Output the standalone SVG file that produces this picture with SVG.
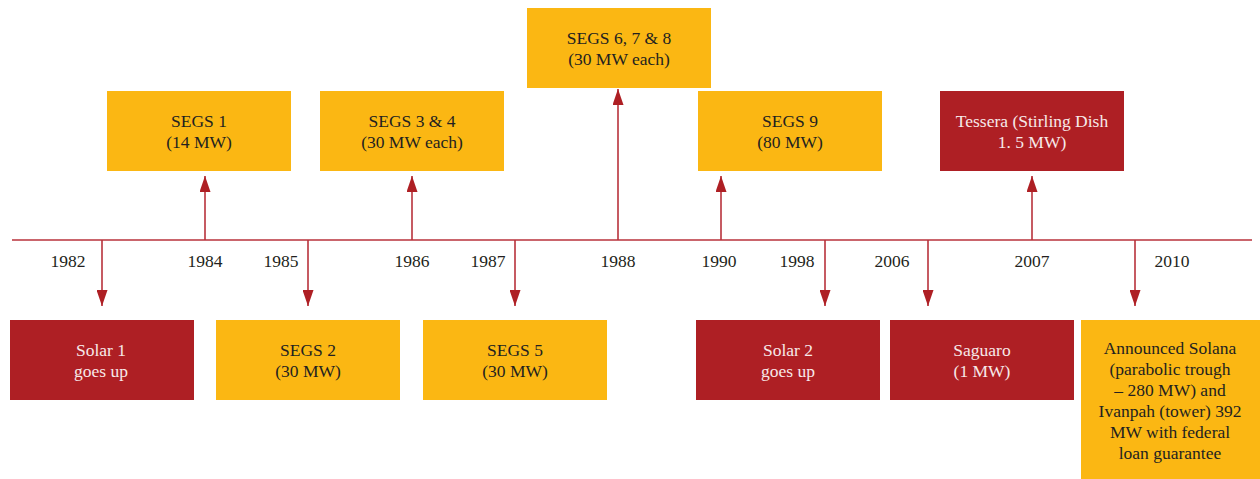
<svg xmlns="http://www.w3.org/2000/svg" width="1260" height="479" viewBox="0 0 1260 479">
<style>
text{font-family:"Liberation Serif","Times New Roman",serif;font-size:17.5px;text-anchor:middle}
.red rect{fill:#AE1F24}
.yel rect{fill:#FBB713}
.red text{fill:#F7E9E9}
.yel text{fill:#231F20}
.yr{fill:#231F20}
.ln{stroke:#B8323B;stroke-width:1.6;fill:none}
</style>
<defs>
<marker id="ah" viewBox="0 0 16 11" refX="16" refY="5.5" markerWidth="16" markerHeight="11" markerUnits="userSpaceOnUse" orient="auto">
<path d="M0,0 L16,5.5 L0,11 Z" fill="#AE1F24"/>
</marker>
</defs>
<g id="connectors">
<line class="ln" x1="12" y1="240" x2="1252" y2="240"/>
<line class="ln" x1="102" y1="240" x2="102" y2="306" marker-end="url(#ah)"/>
<line class="ln" x1="308" y1="240" x2="308" y2="306" marker-end="url(#ah)"/>
<line class="ln" x1="515" y1="240" x2="515" y2="306" marker-end="url(#ah)"/>
<line class="ln" x1="825" y1="240" x2="825" y2="306" marker-end="url(#ah)"/>
<line class="ln" x1="928" y1="240" x2="928" y2="306" marker-end="url(#ah)"/>
<line class="ln" x1="1135" y1="240" x2="1135" y2="306" marker-end="url(#ah)"/>
<line class="ln" x1="205" y1="240" x2="205" y2="176" marker-end="url(#ah)"/>
<line class="ln" x1="412" y1="240" x2="412" y2="176" marker-end="url(#ah)"/>
<line class="ln" x1="618" y1="240" x2="618" y2="89" marker-end="url(#ah)"/>
<line class="ln" x1="721" y1="240" x2="721" y2="176" marker-end="url(#ah)"/>
<line class="ln" x1="1032" y1="240" x2="1032" y2="176" marker-end="url(#ah)"/>
</g>
<g id="years">
<text class="yr" x="68" y="267">1982</text>
<text class="yr" x="205" y="267">1984</text>
<text class="yr" x="281" y="267">1985</text>
<text class="yr" x="412" y="267">1986</text>
<text class="yr" x="488" y="267">1987</text>
<text class="yr" x="618" y="267">1988</text>
<text class="yr" x="719" y="267">1990</text>
<text class="yr" x="797" y="267">1998</text>
<text class="yr" x="892" y="267">2006</text>
<text class="yr" x="1032" y="267">2007</text>
<text class="yr" x="1172" y="267">2010</text>
</g>
<g id="solar1" class="red"><rect x="10" y="320" width="184" height="80"/><text x="101" y="356">Solar 1</text><text x="101" y="377">goes up</text></g>
<g id="segs2" class="yel"><rect x="216" y="320" width="184" height="80"/><text x="308" y="356">SEGS 2</text><text x="308" y="377">(30 MW)</text></g>
<g id="segs5" class="yel"><rect x="423" y="320" width="184" height="80"/><text x="515" y="356">SEGS 5</text><text x="515" y="377">(30 MW)</text></g>
<g id="solar2" class="red"><rect x="696" y="320" width="184" height="80"/><text x="788" y="356">Solar 2</text><text x="788" y="377">goes up</text></g>
<g id="saguaro" class="red"><rect x="890" y="320" width="184" height="80"/><text x="982" y="356">Saguaro</text><text x="982" y="377">(1 MW)</text></g>
<g id="solana" class="yel"><rect x="1081" y="320" width="179" height="159"/>
<text x="1170" y="354">Announced Solana</text>
<text x="1170" y="375">(parabolic trough</text>
<text x="1170" y="396">– 280 MW) and</text>
<text x="1170" y="417">Ivanpah (tower) 392</text>
<text x="1170" y="438">MW with federal</text>
<text x="1170" y="459">loan guarantee</text>
</g>
<g id="segs1" class="yel"><rect x="107" y="91" width="184" height="80"/><text x="199" y="127">SEGS 1</text><text x="199" y="148">(14 MW)</text></g>
<g id="segs34" class="yel"><rect x="320" y="91" width="184" height="80"/><text x="412" y="127">SEGS 3 &amp; 4</text><text x="412" y="148">(30 MW each)</text></g>
<g id="segs678" class="yel"><rect x="527" y="8" width="184" height="80"/><text x="619" y="44">SEGS 6, 7 &amp; 8</text><text x="619" y="65">(30 MW each)</text></g>
<g id="segs9" class="yel"><rect x="698" y="91" width="184" height="80"/><text x="790" y="127">SEGS 9</text><text x="790" y="148">(80 MW)</text></g>
<g id="tessera" class="red"><rect x="940" y="91" width="184" height="80"/><text x="1032" y="127">Tessera (Stirling Dish</text><text x="1032" y="148">1. 5 MW)</text></g>
</svg>
